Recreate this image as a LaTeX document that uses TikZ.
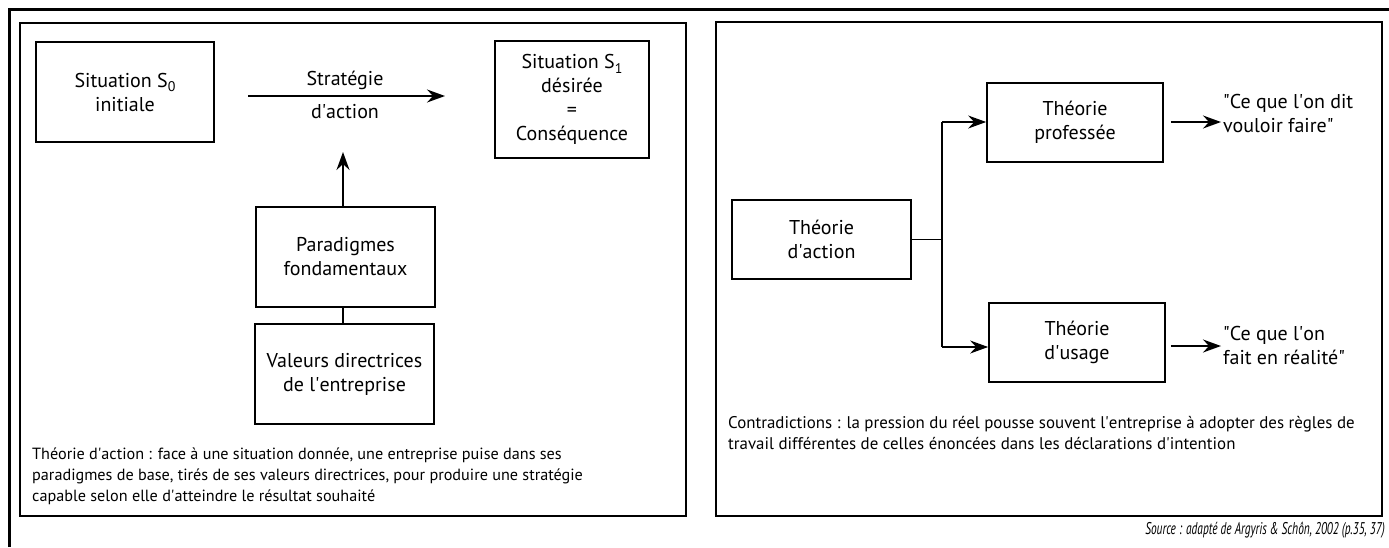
\documentclass[tikz,border=0pt]{standalone}
\usepackage{fontspec}
\setmainfont{PT Sans}
\usetikzlibrary{arrows.meta,calc}
\newcommand\mysub[1]{\raisebox{-0.45ex}{\fontsize{14}{14}\selectfont #1}}
\newcommand\apos{\textquotesingle}
\newcommand\dq{\textquotedbl}
\tikzset{
  box/.style={draw, line width=1.7pt, rectangle, inner sep=0pt, align=center,
    font=\fontsize{20}{24}\selectfont},
  panel/.style={draw, line width=1.7pt, rectangle, inner sep=0pt},
  lbl/.style={inner sep=0pt, align=center, font=\fontsize{20}{24}\selectfont},
  captxt/.style={inner sep=0pt, align=left, anchor=west, font=\fontsize{16.2}{21}\selectfont},
  conn/.style={line width=1.7pt},
  arr/.style={line width=1.7pt, -{Stealth[length=18pt,width=13pt,inset=6pt]}},
}
\begin{document}
\begin{tikzpicture}[x=1pt,y=-1pt]
\useasboundingbox (0,0) rectangle (1389,547);
% outer frame (top and left visible)
\draw[line width=2.2pt] (9.5,547) -- (9.5,9.5) -- (1389,9.5);
% panels
\node[panel, minimum width=666pt, minimum height=493pt] (pl) at (353,269.5) {};
\node[panel, minimum width=666pt, minimum height=494pt] (pr) at (1049,269) {};
% left panel
\node[box, minimum width=178pt, minimum height=100pt] (s0) at (125,92) {Situation S\mysub{0}\\initiale};
\node[box, minimum width=154pt, minimum height=117pt] (s1) at (572,99.5) {Situation S\mysub{1}\\désirée\\=\\Conséquence};
\coordinate (sa) at (248,96);
\coordinate (sb) at (445,96);
\draw[arr] (sa) -- (sb);
\node[lbl] (strat1) at (345,80) {Stratégie};
\node[lbl] (strat2) at (345,112) {d\apos action};
\node[box, minimum width=179pt, minimum height=100pt] (par) at (345.5,257) {Paradigmes\\fondamentaux};
\node[box, minimum width=179pt, minimum height=100pt] (val) at (344.5,374) {Valeurs directrices\\de l\apos entreprise};
\coordinate (up) at (343,152);
\draw[arr] (par.north -| up) -- (up);
\draw[conn] (par.south -| up) -- (val.north -| up);
\node[captxt] (capl) at (32,476) {Théorie d\apos action : face à une situation donnée, une entreprise puise dans ses\\paradigmes de base, tirés de ses valeurs directrices, pour produire une stratégie\\capable selon elle d\apos atteindre le résultat souhaité};
% right panel
\node[box, minimum width=179pt, minimum height=79pt] (ta) at (821.5,239.5) {Théorie\\d\apos action};
\node[box, minimum width=176pt, minimum height=79pt] (tp) at (1075,122.5) {Théorie\\professée};
\node[box, minimum width=176pt, minimum height=79pt] (tu) at (1077,342.5) {Théorie\\d\apos usage};
\coordinate (j) at (942,239.5);
\coordinate (jt) at (942,122);
\coordinate (jb) at (942,347);
\draw[conn] (ta.east) -- (j);
\draw[conn] (jt) -- (jb);
\draw[arr] (jt) -- (jt -| tp.west);
\draw[arr] (jb) -- (jb -| tu.west);
\coordinate (qa) at (1221,122);
\coordinate (qb) at (1221,346);
\draw[arr] ($(tp.east)+(7,-0.5)$) -- (qa);
\draw[arr] ($(tu.east)+(5,3.5)$) -- (qb);
\node[lbl, align=left, anchor=west] (q1) at (1223,113) {\dq Ce que l\apos on dit\\vouloir faire\dq};
\node[lbl, align=left, anchor=west] (q2) at (1223,345) {\dq Ce que l\apos on\\fait en réalité\dq};
\node[captxt, font=\fontsize{16.9}{21}\selectfont] (capr) at (728,433.5) {Contradictions : la pression du réel pousse souvent l\apos entreprise à adopter des règles de\\travail différentes de celles énoncées dans les déclarations d\apos intention};
% source
\node[inner sep=0pt, anchor=east, font=\fontsize{17}{21}\selectfont\itshape] (src) at (1385,530) {\scalebox{0.67}[1]{Source : adapté de Argyris \& Schôn, 2002 (p.35, 37)}};
\end{tikzpicture}
\end{document}
